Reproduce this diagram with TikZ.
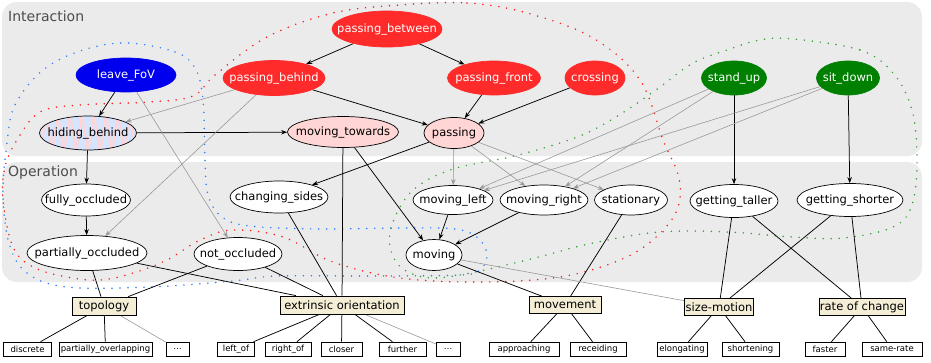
\documentclass[tikz,border=0pt]{standalone}
\usepackage{fontspec}
\setmainfont{DejaVu Sans}
\usetikzlibrary{shapes.geometric,arrows.meta}
\definecolor{nred}{HTML}{FF2A2A}
\definecolor{nblue}{HTML}{0000EE}
\definecolor{ngreen}{HTML}{008000}
\definecolor{npink}{HTML}{FFD5D5}
\definecolor{nlblue}{HTML}{D5E5FF}
\definecolor{nbeige}{HTML}{F4EED7}
\definecolor{panel}{HTML}{EBEBEB}
\definecolor{dblue}{HTML}{2A7FFF}
\definecolor{dred}{HTML}{FF1A1A}
\definecolor{dgreen}{HTML}{33A033}
\definecolor{glin}{HTML}{999999}
\pgfdeclarelayer{bg}\pgfdeclarelayer{dots}\pgfdeclarelayer{edges}
\pgfsetlayers{bg,dots,edges,main}
\tikzset{
  ell/.style={ellipse, draw=black, line width=0.7pt, inner sep=0pt, fill=white},
  sz/.style 2 args={minimum width=#1pt, minimum height=#2pt},
  lbl/.style={inner sep=0pt, font=\fontsize{11.5}{13}\selectfont},
  txt/.style={label={[lbl]center:#1}},
  wtxt/.style={label={[lbl,text=white]center:#1}},
  rednode/.style={ell, fill=nred, draw=nred},
  bluenode/.style={ell, fill=nblue, draw=nblue},
  greennode/.style={ell, fill=ngreen, draw=ngreen},
  pinknode/.style={ell, fill=npink},
  catbox/.style={rectangle, draw=black, line width=0.8pt, fill=nbeige, inner sep=0pt,
    font=\fontsize{11.5}{13}\selectfont},
  leaf/.style={rectangle, draw=black, line width=0.6pt, fill=white, inner sep=0pt,
    minimum height=14pt, font=\fontsize{8.5}{10}\selectfont},
  arr/.style={draw=black, line width=0.75pt, -{Stealth[length=6pt,width=4.5pt]}},
  garr/.style={draw=glin, line width=0.6pt, -{Stealth[length=6pt,width=4.5pt]}},
  lin/.style={draw=black, line width=0.75pt},
  glin/.style={draw=glin, line width=0.6pt},
  dotline/.style={line width=1.7pt, dash pattern=on 0pt off 8pt, line cap=round},
  paneltext/.style={text=black!70, font=\fontsize{14}{16}\selectfont, anchor=west, inner sep=0pt},
  zig/.style={draw=npink, line width=2.2pt},
}
\begin{document}
\begin{tikzpicture}[x=1pt, y=-1pt]
\useasboundingbox (0,0) rectangle (931,362);
\begin{pgfonlayer}{bg}
\fill[white] (0,0) rectangle (931,362);
\fill[panel, rounded corners=15pt] (2,2) rectangle (922,156);
\fill[panel, rounded corners=15pt] (2,162) rectangle (922,282);
\end{pgfonlayer}
\node[paneltext] (tInter) at (8,16) {Interaction};
\node[paneltext] (tOper) at (8,173) {Operation};

% interaction nodes
\node[rednode, sz={110}{36}, wtxt={passing\_between}] (pbetween) at (387,29) {};
\node[bluenode, sz={100}{34}, wtxt={leave\_FoV}] (leave) at (126,75) {};
\node[rednode, sz={102}{35}, wtxt={passing\_behind}] (pbehind) at (274,78) {};
\node[rednode, sz={93}{34}, wtxt={passing\_front}] (pfront) at (494,78) {};
\node[rednode, sz={60}{34}, wtxt={crossing}] (crossing) at (595,78) {};
\node[greennode, sz={65}{34}, wtxt={stand\_up}] (standup) at (734,78) {};
\node[greennode, sz={63}{34}, wtxt={sit\_down}] (sitdown) at (848,78) {};
\node[ell, fill=nlblue, sz={97}{34}, txt={hiding\_behind},
  path picture={\foreach \i in {-8,...,7} {
    \draw[zig] ([xshift=\i*12pt, yshift=-18pt]path picture bounding box.center)
      -- ([xshift=\i*12pt+6pt, yshift=18pt]path picture bounding box.center)
      -- ([xshift=\i*12pt+12pt, yshift=-18pt]path picture bounding box.center);}}
  ] (hiding) at (88,133) {};
\node[pinknode, sz={111}{31}, txt={moving\_towards}] (mtowards) at (343,132) {};
\node[pinknode, sz={60}{31}, txt={passing}] (passing) at (454,133) {};

% operation nodes
\node[ell, sz={89}{32}, txt={fully\_occluded}] (fully) at (86,200) {};
\node[ell, sz={98}{32}, txt={changing\_sides}] (csides) at (279,197) {};
\node[ell, sz={80}{29}, txt={moving\_left}] (mleft) at (453,200) {};
\node[ell, sz={88}{30}, txt={moving\_right}] (mright) at (544,200) {};
\node[ell, sz={73}{30}, txt={stationary}] (stat) at (631,200) {};
\node[ell, sz={88}{33}, txt={getting\_taller}] (taller) at (734,201) {};
\node[ell, sz={106}{33}, txt={getting\_shorter}] (shorter) at (850,200) {};
\node[ell, sz={120}{35}, txt={partially\_occluded}] (partial) at (87,253) {};
\node[ell, sz={88}{33}, txt={not\_occluded}] (notocc) at (238,254) {};
\node[ell, sz={56}{31}, txt={moving}] (moving) at (434,255) {};

% category boxes
\node[catbox, sz={64}{18}] (topo) at (104,306) {topology};
\node[catbox, sz={124}{18}] (extr) at (342,305) {extrinsic orientation};
\node[catbox, sz={72}{17}] (movem) at (565,305) {movement};
\node[catbox, sz={69}{17}] (sizem) at (719,307) {size-motion};
\node[catbox, sz={86}{17}] (rate) at (862,307) {rate of change};

% leaves
\node[leaf, minimum width=48pt] (l1) at (27.5,349) {discrete};
\node[leaf, minimum width=93pt] (l2) at (105.5,349) {partially\_overlapping};
\node[leaf, minimum width=23pt] (l3) at (177.5,349) {…};
\node[leaf, minimum width=37pt] (l4) at (236,349) {left\_of};
\node[leaf, minimum width=46pt] (l5) at (288,349) {right\_of};
\node[leaf, minimum width=41pt] (l6) at (341.5,349) {closer};
\node[leaf, minimum width=47pt] (l7) at (402.5,349) {further};
\node[leaf, minimum width=24pt] (l8) at (448,349) {…};
\node[leaf, minimum width=70pt] (l9) at (524,349) {approaching};
\node[leaf, minimum width=56pt] (l10) at (598,349) {receiding};
\node[leaf, minimum width=50pt] (l11) at (682,349) {elongating};
\node[leaf, minimum width=57pt] (l12) at (750.5,349) {shortening};
\node[leaf, minimum width=40pt] (l13) at (825,349) {faster};
\node[leaf, minimum width=60pt] (l14) at (892,349) {same-rate};

% dotted groupings
\begin{pgfonlayer}{dots}
\draw[dotline, dblue] plot[smooth cycle, tension=0.6] coordinates {
 (127,43) (175,52) (195,68) (203,100) (205,160) (208,195) (222,217) (250,226)
 (320,229) (400,228) (455,229) (478,238) (487,255) (480,270) (460,275) (370,276)
 (277,276) (233,281) (150,287) (67,287) (27,273) (9,243) (3,193) (7,143) (15,105)
 (43,70) (83,50)};
\draw[dotline, dred] plot[smooth cycle, tension=0.6] coordinates {
 (400,5) (467,3) (527,13) (593,38) (640,80) (663,140) (679,178) (677,210) (655,238)
 (620,260) (560,277) (480,282) (400,278) (333,262) (283,237) (233,230) (200,240)
 (167,260) (133,273) (100,280) (67,277) (33,267) (13,247) (3,200) (5,167) (17,140)
 (40,112) (80,105) (150,102) (193,96) (215,75) (267,37) (333,13)};
\draw[dotline, dgreen] plot[smooth cycle, tension=0.6] coordinates {
 (793,39) (860,50) (893,73) (912,110) (917,160) (912,205) (893,227) (843,238)
 (793,237) (727,232) (660,232) (593,243) (527,260) (460,275) (423,277) (397,263)
 (390,233) (410,193) (450,170) (510,157) (560,143) (593,130) (627,110) (660,87)
 (693,63) (727,50) (760,40)};
\end{pgfonlayer}

% edges
\begin{pgfonlayer}{edges}
\draw[arr] (pbetween) -- (pbehind);
\draw[arr] (pbetween) -- (pfront);
\draw[arr] (pbehind) -- (passing);
\draw[arr] (pfront) -- (passing);
\draw[arr] (crossing) -- (passing);
\draw[arr] (leave) -- (hiding);
\draw[arr] (hiding) -- (mtowards);
\draw[arr] (hiding) -- (fully);
\draw[arr] (fully) -- (partial);
\draw[arr] (standup) -- (taller);
\draw[arr] (sitdown) -- (shorter);
\draw[arr] (passing) -- (csides);
\draw[arr] (mtowards) -- (moving);
\draw[arr] (mleft) -- (moving);
\draw[arr] (mright) -- (moving);
\draw[garr] (pbehind) -- (hiding);
\draw[garr] (pbehind) -- (partial);
\draw[garr] (leave) -- (notocc);
\draw[garr] (passing) -- (mleft);
\draw[garr] (passing) -- (mright);
\draw[garr] (passing) -- (stat);
\draw[garr] (standup) -- (mleft);
\draw[garr] (standup) -- (mright);
\draw[garr] (sitdown) -- (mleft);
\draw[garr] (sitdown) -- (mright);
% to categories
\draw[lin] (partial) -- (topo);
\draw[lin] (notocc) -- (topo);
\draw[lin] (partial) -- (extr);
\draw[lin] (notocc) -- (extr);
\draw[lin] (csides) -- (extr);
\draw[lin] (mtowards) -- (extr);
\draw[lin] (moving) -- (movem);
\draw[lin] (stat) -- (movem);
\draw[glin] (moving) -- (sizem);
\draw[lin] (taller) -- (sizem);
\draw[lin] (shorter) -- (sizem);
\draw[lin] (taller) -- (rate);
\draw[lin] (shorter) -- (rate);
% to leaves
\draw[lin] (topo) -- (l1);
\draw[lin] (topo) -- (l2);
\draw[glin] (topo) -- (l3);
\draw[lin] (extr) -- (l4);
\draw[lin] (extr) -- (l5);
\draw[lin] (extr) -- (l6);
\draw[lin] (extr) -- (l7);
\draw[glin] (extr) -- (l8);
\draw[lin] (movem) -- (l9);
\draw[lin] (movem) -- (l10);
\draw[lin] (sizem) -- (l11);
\draw[lin] (sizem) -- (l12);
\draw[lin] (rate) -- (l13);
\draw[lin] (rate) -- (l14);
\end{pgfonlayer}
\end{tikzpicture}
\end{document}
